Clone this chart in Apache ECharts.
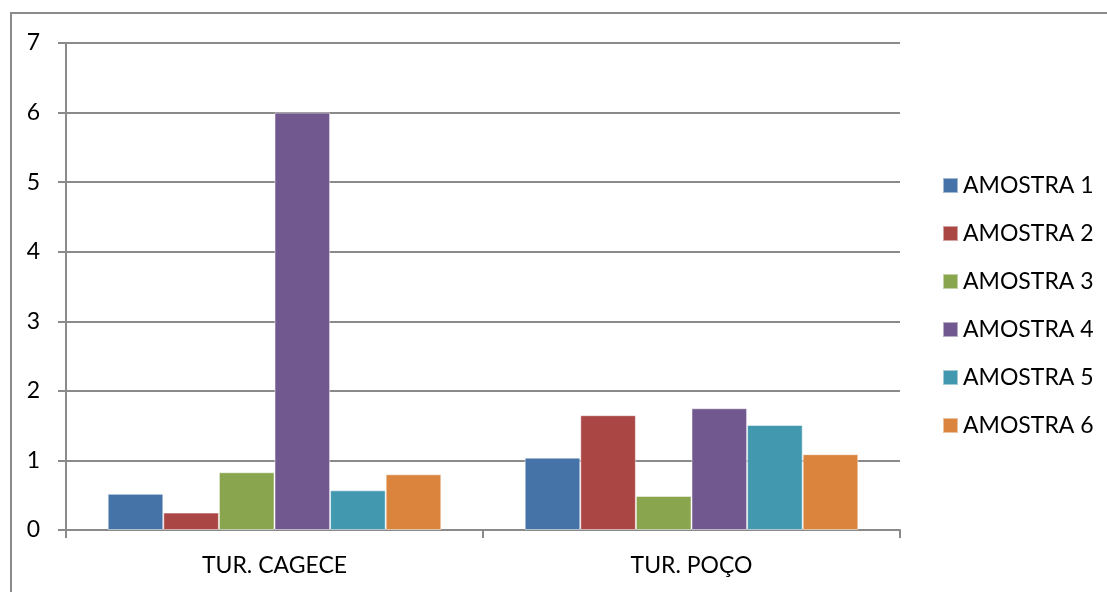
<!DOCTYPE html>
<html>
<head>
<meta charset="utf-8">
<script src="https://cdn.jsdelivr.net/npm/echarts@6/dist/echarts.min.js"></script>
<style>
  html, body { margin: 0; padding: 0; background: #ffffff; }
  #chart { width: 1107px; height: 592px; }
</style>
</head>
<body>
<div id="chart"></div>
<script>
// Turbidity readings per sample, grouped by water source
const categories = ['TUR. CAGECE', 'TUR. POÇO'];
const seriesNames = ['AMOSTRA 1', 'AMOSTRA 2', 'AMOSTRA 3', 'AMOSTRA 4', 'AMOSTRA 5', 'AMOSTRA 6'];
const amostra1 = [0.52, 1.04];
const amostra2 = [0.25, 1.65];
const amostra3 = [0.83, 0.49];
const amostra4 = [6.0, 1.75];
const amostra5 = [0.57, 1.51];
const amostra6 = [0.80, 1.09];
const yTicks = [0, 1, 2, 3, 4, 5, 6, 7];

const seriesValues = [amostra1, amostra2, amostra3, amostra4, amostra5, amostra6];
const palette = ['#4572A7', '#AA4643', '#89A54E', '#71588F', '#4198AF', '#DB843D'];

const fontFamily = 'Lato, "Liberation Sans", sans-serif';
const gridColor = '#8a8a8a';

const chart = echarts.init(document.getElementById('chart'), null, { renderer: 'canvas' });

chart.setOption({
  animation: false,
  backgroundColor: '#ffffff',
  color: palette,
  graphic: [{
    type: 'rect',
    shape: { x: 11, y: 13, width: 1200, height: 700 },
    style: { fill: 'none', stroke: gridColor, lineWidth: 2 },
    silent: true,
    z: -1
  }],
  grid: { left: 66, right: 207, top: 43, bottom: 62, containLabel: false },
  legend: {
    orient: 'vertical',
    left: 937,
    top: 169,
    itemWidth: 15,
    itemHeight: 15,
    itemGap: 25,
    icon: 'rect',
    textStyle: { fontFamily: fontFamily, fontSize: 23, color: '#000000', lineHeight: 23 },
    data: seriesNames
  },
  xAxis: {
    type: 'category',
    data: categories,
    axisLine: { lineStyle: { color: gridColor, width: 2 } },
    axisTick: { show: true, length: 8, lineStyle: { color: gridColor, width: 2 } },
    axisLabel: { fontFamily: fontFamily, fontSize: 23, color: '#000000', margin: 24 }
  },
  yAxis: {
    type: 'value',
    min: yTicks[0],
    max: yTicks[yTicks.length - 1],
    interval: 1,
    axisLine: { show: true, lineStyle: { color: gridColor, width: 2 } },
    axisTick: { show: true, length: 8, lineStyle: { color: gridColor, width: 2 } },
    axisLabel: { fontFamily: fontFamily, fontSize: 23, color: '#000000', margin: 26 },
    splitLine: { show: true, lineStyle: { color: gridColor, width: 2 } }
  },
  series: seriesNames.map((name, i) => ({
    name: name,
    type: 'bar',
    data: seriesValues[i],
    barGap: '0%',
    barCategoryGap: '20%',
    itemStyle: { color: palette[i], borderColor: 'rgba(255,255,255,0.5)', borderWidth: 1 }
  }))
});
</script>
</body>
</html>
